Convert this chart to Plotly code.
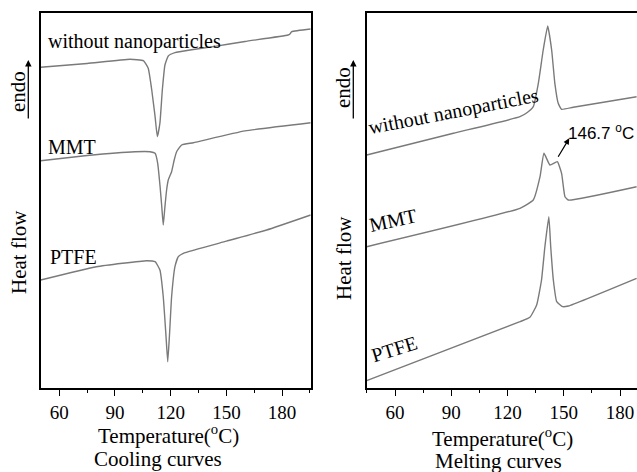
import plotly.graph_objects as go

# ---- Cooling curves (Temperature in °C, heat flow in arbitrary units) ----
cool_neat_T = [50, 75, 98.1, 105.3, 107.9, 109.8, 111.6, 112.8, 114.2, 115.5, 116.9, 118.7, 122.3, 130.4, 143, 160, 183.2, 184.2, 185.2, 195.4]
cool_neat_H = [320.7, 324.5, 328.7, 327.3, 319.7, 298, 271.3, 251.3, 265, 298, 323, 332, 335.3, 338, 341.4, 346.5, 353, 354, 356.3, 359]

cool_mmt_T = [50, 75, 100.8, 108.9, 111.6, 113.0, 114.3, 115.2, 116.0, 116.9, 117.8, 118.7, 120.5, 121.9, 123.2, 125.9, 132.2, 160, 195.4]
cool_mmt_H = [227.3, 232.5, 236.3, 236.3, 234.7, 224.7, 201.3, 181.3, 163, 181.3, 198, 208, 216.3, 228, 236.3, 243, 245.3, 257.1, 265.3]

cool_ptfe_T = [50, 80, 107.1, 111.6, 114.2, 116.0, 117.5, 118.4, 119.3, 120.5, 122.3, 124.1, 126.8, 150, 171.7, 195.4]
cool_ptfe_H = [108, 121.3, 127.3, 126.3, 118, 91.3, 51.3, 26.3, 51.3, 91.3, 121.3, 131.3, 134.7, 146.8, 158, 173]

# ---- Melting curves ----
melt_neat_T = [44.9, 91.1, 126.6, 130.5, 133.7, 136.4, 139.0, 141.4, 143.5, 145.2, 147.0, 148.8, 155.0, 188.8]
melt_neat_H = [233, 254.7, 271.3, 275.5, 281.3, 304.7, 338, 362, 338, 304.7, 284.7, 278.7, 280.7, 291.3]

melt_mmt_T = [44.9, 126.6, 133.7, 137.3, 139.4, 142.6, 146.5, 148.8, 150.6, 152.4, 188.8]
melt_mmt_H = [141.3, 179.7, 188, 211.3, 234.7, 223, 226.3, 214.7, 191.3, 188, 201.3]

melt_ptfe_T = [44.9, 126.6, 131.9, 135.5, 138.1, 139.9, 142.0, 143.0, 144.4, 146.2, 149.4, 152.4, 188.8]
melt_ptfe_H = [7.3, 66.3, 70.7, 83, 108, 141.3, 171.3, 141.3, 108, 86.3, 81.3, 82, 109.7]

tick_vals = [60, 90, 120, 150, 180]
tick_text = ["60", "90", "120", "150", "180"]

SERIF = "Liberation Serif"
LINE = "#7a7a7a"

fig = go.Figure()
for T, H, ax in [
    (cool_neat_T, cool_neat_H, 1), (cool_mmt_T, cool_mmt_H, 1), (cool_ptfe_T, cool_ptfe_H, 1),
    (melt_neat_T, melt_neat_H, 2), (melt_mmt_T, melt_mmt_H, 2), (melt_ptfe_T, melt_ptfe_H, 2),
]:
    fig.add_trace(go.Scatter(
        x=T, y=H, mode="lines",
        line=dict(color=LINE, width=1.4, shape="spline", smoothing=0.4),
        xaxis="x" if ax == 1 else "x2", yaxis="y" if ax == 1 else "y2",
        showlegend=False, hoverinfo="skip"))

W, Hh = 637, 472
ydom = [(472 - 388) / Hh, (472 - 12.7) / Hh]

xcommon = dict(
    showgrid=False, zeroline=False, showline=True, linecolor="black", linewidth=1.5,
    ticks="outside", ticklen=6, tickwidth=1.2, tickcolor="black",
    tickvals=tick_vals, ticktext=tick_text,
    tickfont=dict(family=SERIF, size=19, color="black"),
    minor=dict(ticks="outside", ticklen=3.5, tickwidth=1.2, tickcolor="black", dtick=15, tick0=0),
)
ycommon = dict(showgrid=False, zeroline=False, showline=True, linecolor="black", linewidth=1.5,
               showticklabels=False, ticks="", range=[0, 375.3])

fig.update_layout(
    width=W, height=Hh,
    margin=dict(l=0, r=0, t=0, b=0),
    paper_bgcolor="white", plot_bgcolor="white",
    xaxis=dict(domain=[40.7 / W, 310.7 / W], range=[50, 195.4], mirror=True, anchor="y", **xcommon),
    yaxis=dict(domain=ydom, mirror=True, anchor="x", **ycommon),
    xaxis2=dict(domain=[366.7 / W, 1.0], range=[44.9, 189], mirror=True, anchor="y2", **xcommon),
    yaxis2=dict(domain=ydom, mirror=False, anchor="x2", **ycommon),
)

def paper_x(px):
    return px / W

def paper_y(py):
    return (Hh - py) / Hh

ann = []
f20 = dict(family=SERIF, size=20, color="black")
f21 = dict(family=SERIF, size=21, color="black")

def txt(**kw):
    d = dict(showarrow=False, xanchor="center", yanchor="middle")
    d.update(kw)
    return d

# curve labels, left panel
ann += [
    txt(x=52.7, y=346.3, xref="x", yref="y", text="without nanoparticles", xanchor="left", font=f20),
    txt(x=52.7, y=241.3, xref="x", yref="y", text="MMT", xanchor="left", font=f20),
    txt(x=53.9, y=130.7, xref="x", yref="y", text="PTFE", xanchor="left", font=f20),
]
# curve labels, right panel (tilted)
ann += [
    txt(x=91.1, y=277, xref="x2", yref="y2", text="without nanoparticles", textangle=-11, font=f20),
    txt(x=59.1, y=168, xref="x2", yref="y2", text="MMT", textangle=-12, font=f20),
    txt(x=59.5, y=39, xref="x2", yref="y2", text="PTFE", textangle=-17, font=f20),
]
# peak annotation
ann += [
    txt(x=151.0, y=256.3, xref="x2", yref="y2", text="146.7 <sup>o</sup>C", xanchor="left",
        font=dict(family="Liberation Sans", size=17, color="black")),
    dict(x=152.9, y=388 - 138.3, xref="x2", yref="y2", ax=146.5, ay=388 - 158.3, axref="x2", ayref="y2",
         text="", showarrow=True, arrowhead=2, arrowsize=1, arrowwidth=1.2, arrowcolor="black"),
]
# axis titles
ann += [
    txt(x=paper_x(168), y=paper_y(434), xref="paper", yref="paper", text="Temperature(<sup>o</sup>C)", font=f21),
    txt(x=paper_x(158), y=paper_y(459), xref="paper", yref="paper", text="Cooling curves", font=f21),
    txt(x=paper_x(502), y=paper_y(437), xref="paper", yref="paper", text="Temperature(<sup>o</sup>C)", font=f21),
    txt(x=paper_x(498), y=paper_y(461), xref="paper", yref="paper", text="Melting curves", font=f21),
    txt(x=paper_x(19), y=paper_y(252), xref="paper", yref="paper", text="Heat flow", textangle=-90, font=f21),
    txt(x=paper_x(344), y=paper_y(258), xref="paper", yref="paper", text="Heat flow", textangle=-90, font=f21),
    txt(x=paper_x(18), y=paper_y(92), xref="paper", yref="paper", text="endo", textangle=-90, font=f21),
    txt(x=paper_x(343), y=paper_y(88), xref="paper", yref="paper", text="endo", textangle=-90, font=f21),
    dict(x=paper_x(28.3), y=paper_y(60), xref="paper", yref="paper", ax=0, ay=60, text="", showarrow=True,
         arrowhead=2, arrowsize=1, arrowwidth=1.3, arrowcolor="black"),
    dict(x=paper_x(353.3), y=paper_y(60), xref="paper", yref="paper", ax=0, ay=60, text="", showarrow=True,
         arrowhead=2, arrowsize=1, arrowwidth=1.3, arrowcolor="black"),
]
fig.update_layout(annotations=ann)

fig.write_html("out.html", config={"displayModeBar": False},
               post_script="document.body.style.margin='0';document.body.style.padding='0';")
